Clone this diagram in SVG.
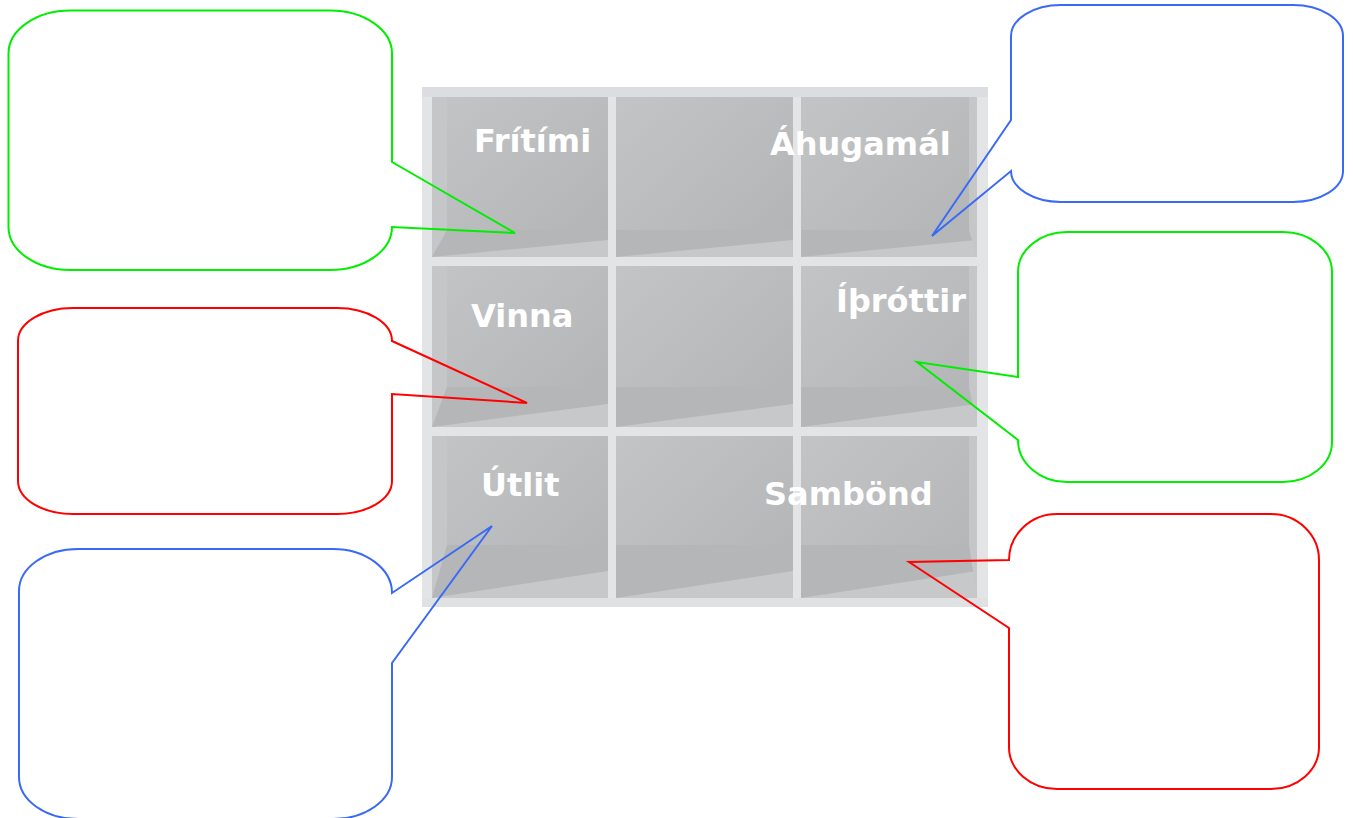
<svg xmlns="http://www.w3.org/2000/svg" width="1353" height="818" viewBox="0 0 1353 818">
  <style>
    .lbl { font-family: "DejaVu Sans", Verdana, sans-serif; font-weight: bold; font-size: 32px; fill: #ffffff; }
    .bub { fill: none; stroke-width: 2; stroke-linejoin: miter; }
    .green { stroke: #00ee00; }
    .blue { stroke: #3a6af5; }
    .red { stroke: #ff0000; }
    .panel { fill: #e3e4e6; }
    .floor { fill: #b5b6b8; }
    .floorlight { fill: #c7c8ca; }
    .side { fill: #c5c6c8; }
  </style>
  <defs>
    <linearGradient id="back" x1="0" y1="0" x2="1" y2="1">
      <stop offset="0" stop-color="#c3c4c6"/>
      <stop offset="0.5" stop-color="#bbbcbe"/>
      <stop offset="1" stop-color="#b1b3b5"/>
    </linearGradient>
  </defs>
  <rect width="1353" height="818" fill="#ffffff"/>

  <g id="shelf">
    <rect x="422" y="87" width="566" height="520" class="panel"/>
    <!-- row 1 -->
    <rect x="432" y="97" width="176" height="160" fill="url(#back)"/>
    <rect x="616" y="97" width="177" height="160" fill="url(#back)"/>
    <rect x="801" y="97" width="176" height="160" fill="url(#back)"/>
    <!-- row 2 -->
    <rect x="432" y="266" width="176" height="161" fill="url(#back)"/>
    <rect x="616" y="266" width="177" height="161" fill="url(#back)"/>
    <rect x="801" y="266" width="176" height="161" fill="url(#back)"/>
    <!-- row 3 -->
    <rect x="432" y="436" width="176" height="162" fill="url(#back)"/>
    <rect x="616" y="436" width="177" height="162" fill="url(#back)"/>
    <rect x="801" y="436" width="176" height="162" fill="url(#back)"/>

    <!-- floors -->
    <rect x="432" y="230" width="176" height="27" class="floor"/>
    <rect x="616" y="230" width="177" height="27" class="floor"/>
    <rect x="801" y="230" width="176" height="27" class="floor"/>
    <rect x="432" y="387" width="176" height="40" class="floor"/>
    <rect x="616" y="387" width="177" height="40" class="floor"/>
    <rect x="801" y="387" width="176" height="40" class="floor"/>
    <rect x="432" y="545" width="176" height="53" class="floor"/>
    <rect x="616" y="545" width="177" height="53" class="floor"/>
    <rect x="801" y="545" width="176" height="53" class="floor"/>

    <polygon class="floorlight" points="432,257 608,240 608,257"/>
    <polygon class="floorlight" points="616,257 793,240 793,257"/>
    <polygon class="floorlight" points="801,257 977,240 977,257"/>
    <polygon class="floorlight" points="432,427 608,404 608,427"/>
    <polygon class="floorlight" points="616,427 793,404 793,427"/>
    <polygon class="floorlight" points="801,427 977,404 977,427"/>
    <polygon class="floorlight" points="432,598 608,571 608,598"/>
    <polygon class="floorlight" points="616,598 793,571 793,598"/>
    <polygon class="floorlight" points="801,598 977,571 977,598"/>

    <!-- inner side walls -->
    <polygon class="side" points="432,97 447,97 447,230 432,257"/>
    <polygon class="side" points="432,266 447,266 447,387 432,427"/>
    <polygon class="side" points="432,436 447,436 447,545 432,598"/>
    <polygon class="side" points="969,97 977,97 977,257 969,230"/>
    <polygon class="side" points="969,266 977,266 977,427 969,387"/>
    <polygon class="side" points="969,436 977,436 977,598 969,545"/>

    <!-- shelf fronts and dividers -->
    <rect x="432" y="257" width="545" height="9" class="panel"/>
    <rect x="432" y="427" width="545" height="9" class="panel"/>
    <rect x="608" y="97" width="8" height="501" class="panel"/>
    <rect x="793" y="97" width="8" height="501" class="panel"/>
    <rect x="422" y="598" width="566" height="9" fill="#e0e1e3"/>
    <rect x="422" y="87" width="566" height="10" fill="#dcdde0"/>
  </g>

  <g id="labels">
    <text class="lbl" x="474" y="152">Frítími</text>
    <text class="lbl" x="770" y="155">Áhugamál</text>
    <text class="lbl" x="471" y="327">Vinna</text>
    <text class="lbl" x="836" y="312">Íþróttir</text>
    <text class="lbl" x="481" y="496">Útlit</text>
    <text class="lbl" x="764" y="505">Sambönd</text>
  </g>

  <g id="connectors"></g>

  <g id="bubble-top-left">
    <path class="bub green" d="M70.5,10.5 H330 A62 43 0 0 1 392 53.5 V162 L515 233 L392 227 A62 43 0 0 1 330 270 H70.5 A62 43 0 0 1 8.5 227 V53.5 A62 43 0 0 1 70.5 10.5 Z"/>
  </g>
  <g id="bubble-top-right">
    <path class="bub blue" d="M1061,5 H1293 A50 31 0 0 1 1343 36 V171 A50 31 0 0 1 1293 202 H1061 A50 31 0 0 1 1011 171 L932 236 L1011 120 V36 A50 31 0 0 1 1061 5 Z"/>
  </g>
  <g id="bubble-mid-left">
    <path class="bub red" d="M73,308 H337 A55 33 0 0 1 392 341 L527 403 L392 394 V481 A55 33 0 0 1 337 514 H73 A55 33 0 0 1 18 481 V341 A55 33 0 0 1 73 308 Z"/>
  </g>
  <g id="bubble-mid-right">
    <path class="bub green" d="M1067,232 H1283 A49 40 0 0 1 1332 272 V442 A49 40 0 0 1 1283 482 H1067 A49 42 0 0 1 1018 440 L917 362 L1018 377 V272 A49 40 0 0 1 1067 232 Z"/>
  </g>
  <g id="bubble-bottom-left">
    <path class="bub blue" d="M78,549 H333 A59 44 0 0 1 392 593 L492 526 L392 663 V777 A59 42 0 0 1 333 819 H78 A59 42 0 0 1 19 777 V591 A59 42 0 0 1 78 549 Z"/>
  </g>
  <g id="bubble-bottom-right">
    <path class="bub red" d="M1057,514 H1271 A48 46 0 0 1 1319 560 V747 A48 42 0 0 1 1271 789 H1057 A48 42 0 0 1 1009 747 V628 L909 562 L1009 560 A48 46 0 0 1 1057 514 Z"/>
  </g>
</svg>
